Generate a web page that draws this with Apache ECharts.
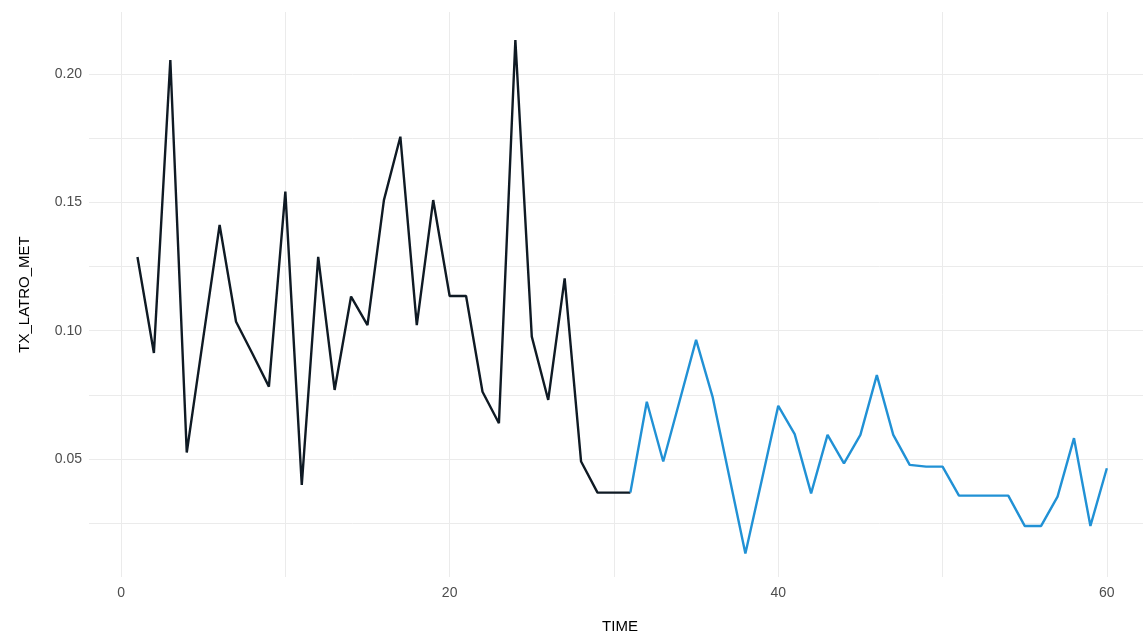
<!DOCTYPE html>
<html>
<head>
<meta charset="utf-8">
<script src="https://cdn.jsdelivr.net/npm/echarts@6/dist/echarts.min.js"></script>
<style>html,body{margin:0;padding:0;background:#fff}#c{width:1143px;height:634px}</style>
</head>
<body>
<div id="c"></div>
<script>
// Data
const timeBlack = [1,2,3,4,5,6,7,8,9,10,11,12,13,14,15,16,17,18,19,20,21,22,23,24,25,26,27,28,29,30,31];
const valBlack = [0.1287,0.0913,0.2055,0.0525,0.097,0.1412,0.1035,0.091,0.0782,0.1542,0.0399,0.1288,0.0769,0.1133,0.1022,0.1509,0.1756,0.1022,0.1509,0.1135,0.1135,0.0762,0.0639,0.2133,0.0977,0.073,0.1204,0.049,0.0369,0.0369,0.0369];
const timeBlue = [31,32,33,34,35,36,37,38,39,40,41,42,43,44,45,46,47,48,49,50,51,52,53,54,55,56,57,58,59,60];
const valBlue = [0.0369,0.0723,0.049,0.0727,0.0964,0.0743,0.0438,0.0132,0.0418,0.0707,0.0597,0.0366,0.0594,0.0483,0.0594,0.0827,0.0594,0.0477,0.047,0.047,0.0357,0.0357,0.0357,0.0357,0.0239,0.0239,0.0353,0.0581,0.0239,0.0464];
const xGrid = [0,10,20,30,40,50,60];
const xLabels = [0,20,40,60];
const yGrid = [0.025,0.05,0.075,0.1,0.125,0.15,0.175,0.2];
const yLabels = [0.05,0.10,0.15,0.20];
const xTitle = 'TIME';
const yTitle = 'TX_LATRO_MET';

const font = 'Liberation Sans, Arial, sans-serif';
const chart = echarts.init(document.getElementById('c'), null, {renderer:'canvas'});
const gridStyle = {show:true, lineStyle:{color:'#ebebeb', width:1}};
chart.setOption({
  animation:false,
  backgroundColor:'#ffffff',
  grid:{left:89, top:12, right:0, bottom:57, containLabel:false, outerBoundsMode:'none'},
  xAxis:{
    type:'value', min:-1.95, max:62.2,
    name:xTitle, nameLocation:'middle', nameGap:42,
    nameTextStyle:{color:'#000', fontSize:15, fontFamily:font, padding:[0,0,0,8]},
    axisLine:{show:false},
    axisTick:{show:false, customValues:xGrid},
    axisLabel:{color:'#4d4d4d', fontSize:14, fontFamily:font, margin:9,
      customValues:xLabels, formatter:v=>String(v)},
    splitLine:gridStyle
  },
  yAxis:{
    type:'value', min:0.0040, max:0.2242,
    name:yTitle, nameLocation:'middle', nameGap:57, nameRotate:90,
    nameTextStyle:{color:'#000', fontSize:15, fontFamily:font},
    axisLine:{show:false},
    axisTick:{show:false, customValues:yGrid},
    axisLabel:{color:'#4d4d4d', fontSize:14, fontFamily:font, margin:7,
      customValues:yLabels, formatter:v=>v.toFixed(2)},
    splitLine:gridStyle
  },
  series:[
    {type:'line', data:timeBlack.map((t,i)=>[t,valBlack[i]]), showSymbol:false, symbol:'none',
     lineStyle:{color:'#0f1a24', width:2.4}, z:3},
    {type:'line', data:timeBlue.map((t,i)=>[t,valBlue[i]]), showSymbol:false, symbol:'none',
     lineStyle:{color:'#2191d5', width:2.4}, z:3}
  ]
});
</script>
</body>
</html>
